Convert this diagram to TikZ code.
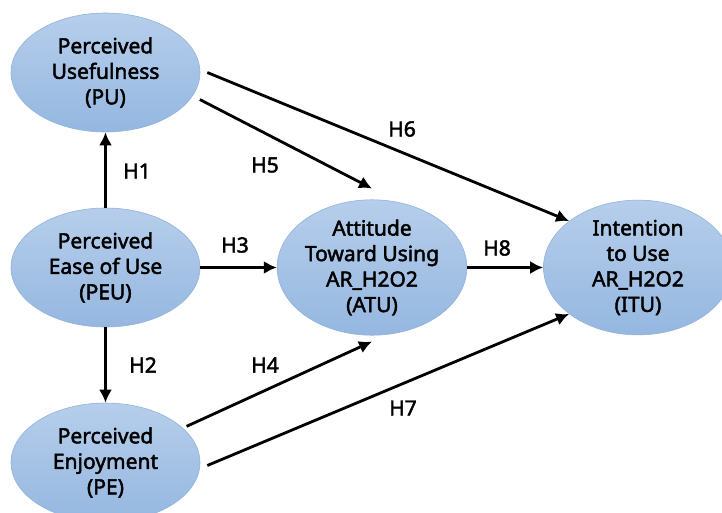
\documentclass[tikz,border=0pt]{standalone}
\usepackage{fontspec}
\setmainfont{Noto Sans}[AutoFakeBold=2.2]
\usetikzlibrary{shapes.geometric,arrows.meta}
\definecolor{topblue}{HTML}{B6CEEB}
\definecolor{botblue}{HTML}{95B7E0}
\definecolor{rimblue}{HTML}{93B3D9}
\tikzset{
  construct/.style={ellipse, minimum width=189pt, minimum height=119pt, inner sep=0pt,
    top color=topblue, bottom color=botblue, draw=rimblue, line width=0.6pt,
    align=center, font=\fontsize{21}{25.5}\selectfont\bfseries},
  arr/.style={line width=2.8pt, -{Latex[length=13pt,width=13pt]}},
  hyp/.style={font=\fontsize{21}{22}\selectfont\bfseries, inner sep=0pt}
}
\begin{document}
\begin{tikzpicture}[x=1pt,y=-1pt]
\useasboundingbox (0,0) rectangle (722,512);
\fill[white] (0,0) rectangle (722,512);
\node[construct] (PU)  at (105.5,72.5) {Perceived\\Usefulness\\(PU)};
\node[construct] (PEU) at (105.5,267.5) {Perceived\\Ease of Use\\(PEU)};
\node[construct] (PE)  at (105.5,462.5) {Perceived\\Enjoyment\\(PE)};
\node[construct] (ATU) at (372,267.5) {Attitude\\Toward Using\\AR\_H2O2\\(ATU)};
\node[construct] (ITU) at (638,267.5) {Intention\\to Use\\AR\_H2O2\\(ITU)};

\draw[arr] (PEU.north) -- (PU.south);
\draw[arr] (PEU.south) -- (PE.north);
\draw[arr] (PEU.east) -- (ATU.west);
\draw[arr, shorten <=4pt] (PE.24) -- ([yshift=-6pt]ATU.south);
\draw[arr, shorten <=8pt] (PU.-15) -- ([yshift=11pt]ATU.north);
\draw[arr] ([xshift=7pt]PU.east) -- (ITU.146);
\draw[arr] ([shift={(7pt,-3pt)}]PE.east) -- (ITU.-146);
\draw[arr] (ATU.east) -- (ITU.west);

\node[hyp] (h1) at (137,171) {H1};
\node[hyp] (h2) at (143,365) {H2};
\node[hyp] (h3) at (235,245) {H3};
\node[hyp] (h4) at (265,365) {H4};
\node[hyp] (h5) at (265,165) {H5};
\node[hyp] (h6) at (402,129) {H6};
\node[hyp] (h7) at (403,408) {H7};
\node[hyp] (h8) at (497,248) {H8};
\end{tikzpicture}
\end{document}
